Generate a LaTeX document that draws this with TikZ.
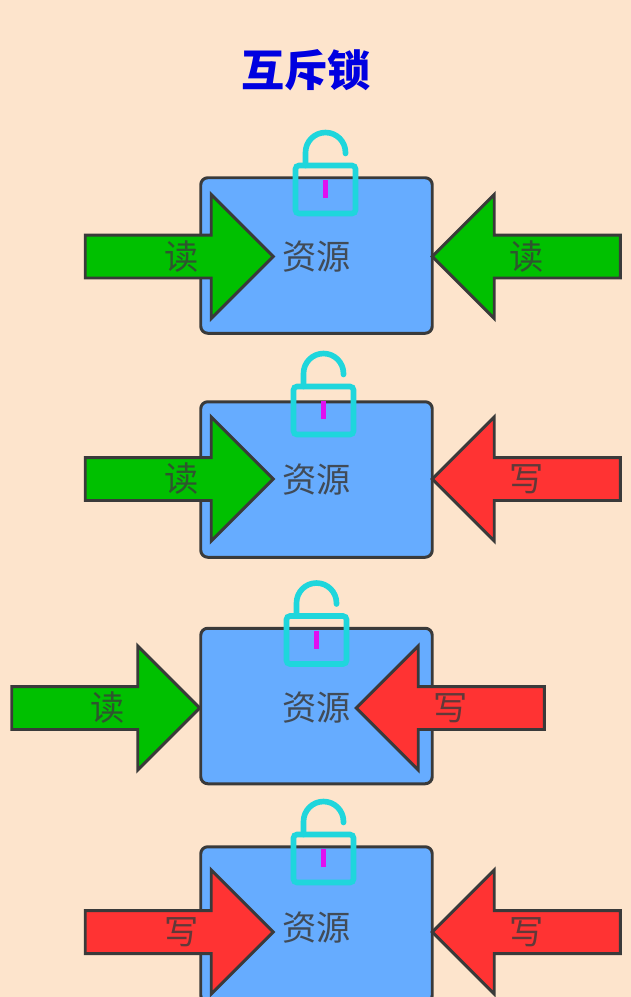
\documentclass[tikz,border=0pt]{standalone}
\usepackage{fontspec}
\setmainfont{Noto Sans CJK SC}
\usepackage{xcolor}
\usetikzlibrary{shapes.arrows}
\definecolor{LockPage}{HTML}{FDE4CC}
\definecolor{LockBlue}{HTML}{66ACFF}
\definecolor{LockGreen}{HTML}{00C000}
\definecolor{LockRed}{HTML}{FF3333}
\definecolor{LockCyan}{HTML}{1FD6DC}
\definecolor{LockPin}{HTML}{E010F0}
\definecolor{LockEdge}{HTML}{3A3A3A}
\tikzset{
  resbox/.style={draw=LockEdge, line width=1.7pt, fill=LockBlue, rounded corners=4pt, minimum width=4.63cm,
    minimum height=3.11cm, inner sep=0pt, font=\fontsize{19.5}{20}\selectfont, text=LockEdge!85!LockBlue,
    text depth=0.08cm},
  access/.style={single arrow, draw=LockEdge, line width=1.7pt, minimum height=3.76cm,
    text height=0.80cm, text depth=0pt, text width=0pt, inner sep=0pt, outer sep=0pt,
    single arrow head extend=0.81cm, single arrow tip angle=90},
  readin/.style={access, fill=LockGreen, label={[accesstext, xshift=#1, text=LockEdge!80!LockGreen]center:读}},
  readin/.default=0.26cm,
  writein/.style={access, fill=LockRed, label={[accesstext, xshift=#1, text=LockEdge!80!LockRed]center:写}},
  writein/.default=0.26cm,
  fromright/.style={shape border rotate=180},
  accesstext/.style={font=\fontsize{19.5}{20}\selectfont, inner sep=0pt},
  openlock/.pic={
    \draw[LockCyan, line width=3.2pt, rounded corners=2pt] (-0.6,-0.48) rectangle (0.6,0.48);
    \draw[LockCyan, line width=3.2pt, line cap=round] (-0.4,0.48) -- (-0.4,0.74) arc[start angle=180, end angle=0, radius=0.4] -- (0.4,0.72);
    \draw[LockPin, line width=3.4pt] (0,0.19) -- (0,-0.17);
  }
}

\begin{document}
\begin{tikzpicture}
\clip (0,0) rectangle (12.62,-19.94);
\fill[LockPage] (0,0) rectangle (12.62,-19.94);

\node[font=\fontsize{24.5}{26}\selectfont\bfseries, text=blue!88!black] at (6.12,-1.40) (title) {互斥锁};

\node[resbox, text height=0.63cm] at (6.33,-5.11) (res1) {资源};
\node[resbox, text height=0.59cm] at (6.33,-9.59) (res2) {资源};
\node[resbox, text height=0.67cm] at (6.33,-14.12) (res3) {资源};
\node[resbox, text height=0.71cm] at (6.33,-18.49) (res4) {资源};

\pic at (6.51,-3.79) {openlock};
\pic at (6.47,-8.21) {openlock};
\pic at (6.33,-12.80) {openlock};
\pic at (6.47,-17.17) {openlock};

\node[readin] at (3.37,-5.13) (left1) {};
\node[readin=-0.21cm, fromright] at (10.74,-5.13) (right1) {};
\node[readin] at (3.37,-9.58) (left2) {};
\node[writein=-0.21cm, fromright] at (10.74,-9.58) (right2) {};
\node[readin] at (1.90,-14.16) (left3) {};
\node[writein=-0.21cm, fromright] at (9.22,-14.16) (right3) {};
\node[writein] at (3.37,-18.64) (left4) {};
\node[writein=-0.21cm, fromright] at (10.74,-18.64) (right4) {};
\end{tikzpicture}
\end{document}
